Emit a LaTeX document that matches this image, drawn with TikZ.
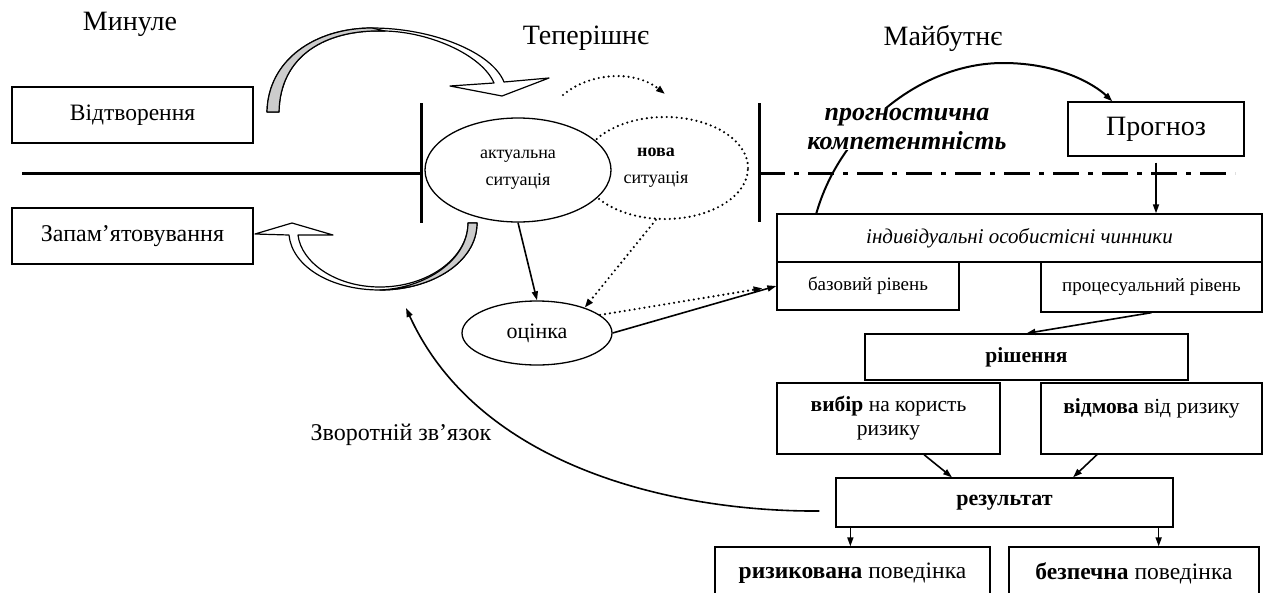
\documentclass[tikz,border=0pt]{standalone}
\usepackage{fontspec}
\setmainfont{Liberation Serif}
\usetikzlibrary{arrows.meta,shapes.geometric,calc}
\newcommand\fsz[2]{\fontsize{#1pt}{#2pt}\selectfont}
\begin{document}
\begin{tikzpicture}[x=1pt,y=-1pt,
  box/.style={draw,line width=1.3pt,inner sep=0pt,align=center},
  ell/.style={ellipse,draw,line width=1.3pt,inner sep=0pt,align=center},
  arr/.style={line width=1.6pt,-{Triangle[length=9pt,width=6pt]}},
  dotline/.style={line width=2.4pt,dash pattern=on 0pt off 5pt,line cap=round},
  dotarr/.style={dotline,-{Triangle[length=9pt,width=6pt]}},
  thick line/.style={line width=3pt},
  hollow/.style={draw,line width=1.2pt,fill=white,line join=round},
  shade/.style={draw,line width=1.2pt,fill=gray!40,line join=round}
]
\useasboundingbox (0,0) rectangle (1263,592);

% headings
\node[font=\fsz{28}{30}] (past) at (130,24) {Минуле};
\node[font=\fsz{28}{30}] (pres) at (586,38) {Теперішнє};
\node[font=\fsz{28}{30}] (fut) at (943,38) {Майбутнє};

% time line
\draw[thick line] (22,173) -- (421,173);
\draw[thick line] (421,103) -- (421,223);
\draw[thick line] (759,103) -- (759,222);
\draw[thick line,dash pattern=on 26pt off 9pt on 5pt off 9pt] (759,173) -- (1235,173);

% left boxes
\node[box,minimum width=241pt,minimum height=56pt,font=\fsz{23.5}{26}] (otv) at (132.5,115) {Відтворення};
\node[box,minimum width=241pt,minimum height=56pt,font=\fsz{24}{26}] (zap) at (132.5,236) {Запам’ятовування};

% top hollow curved arrow
\draw[hollow] (267,112) .. controls (268,60) and (315,28) .. (372,28)
  .. controls (432,28) and (492,52) .. (504,82)
  -- (549,78) -- (502,96) -- (450,86) -- (494,83)
  .. controls (482,55) and (430,32) .. (385,31)
  .. controls (325,29) and (280,56) .. (279,112) -- cycle;
\draw[shade] (267,112) .. controls (268,60) and (315,28) .. (372,28)
  -- (385,31) .. controls (325,29) and (280,56) .. (279,112) -- cycle;

% bottom hollow curved arrow
\draw[hollow] (477,223) .. controls (477,262) and (432,290) .. (380,290)
  .. controls (330,290) and (292,266) .. (289,235)
  -- (255,234) -- (292,223) -- (333,235) -- (298,235)
  .. controls (301,262) and (335,287) .. (380,287)
  .. controls (428,287) and (468,258) .. (468,223) -- cycle;
\draw[shade] (477,223) .. controls (477,262) and (432,290) .. (380,290)
  .. controls (426,288) and (468,260) .. (468,223) -- cycle;

% situations
\node[ell,minimum width=166pt,minimum height=102pt,dotline] (nova) at (665,168) {};
\node[ell,fill=white,minimum width=186pt,minimum height=104pt,font=\fsz{18}{27}] (akt) at (518,170) {актуальна\\ситуація};
\node[font=\fsz{18}{27},align=center] (novat) at (656,168) {\textbf{нова}\\ситуація};
\node[ell,minimum width=150pt,minimum height=64pt,font=\fsz{22}{24}] (ocin) at (537,333) {оцінка};

% dotted arc above
\coordinate (da1) at (563,95);
\coordinate (da2) at (665,94);
\draw[dotarr] (da1) .. controls (590,72) and (635,70) .. (da2);

% right side boxes
\node[box,minimum width=176pt,minimum height=54pt,font=\fsz{28}{30}] (progn) at (1156,129) {Прогноз};
\node[box,minimum width=485pt,minimum height=48pt,font=\fsz{21}{24}\itshape] (indiv) at (1019.5,238) {індивідуальні особистісні чинники};
\node[box,minimum width=182pt,minimum height=48pt,font=\fsz{19}{22}] (baz) at (868,286) {базовий рівень};
\node[box,minimum width=221pt,minimum height=50pt,font=\fsz{19}{22}] (proc) at (1151.5,287) {процесуальний рівень};
\node[box,minimum width=323pt,minimum height=46pt,font=\fsz{21.5}{24}] (rish) at (1026.5,357) {\textbf{рішення}};
\node[box,minimum width=223pt,minimum height=71pt,font=\fsz{21.5}{24}] (vybir) at (888.5,418.5) {\textbf{вибір} на користь\\ризику};
\node[box,minimum width=221pt,minimum height=71pt,font=\fsz{21.5}{24}] (vidm) at (1151.5,418.5) {\textbf{відмова} від ризику\\\mbox{}};
\node[box,minimum width=337pt,minimum height=49pt,font=\fsz{22}{24}] (rez) at (1004.5,502.5) {\textbf{результат}};
\node[box,minimum width=275pt,minimum height=53pt,font=\fsz{23.5}{24}] (ryz) at (852.5,573.5) {\textbf{ризикована} поведінка};
\node[box,minimum width=250pt,minimum height=53pt,font=\fsz{23.5}{24}] (bez) at (1134,573.5) {\textbf{безпечна} поведінка};

% connectors
\draw[arr] (akt.south) -- (ocin.north);
\draw[dotarr] (nova.-100) -- (ocin.28);
\draw[dotarr,shorten >=14pt] (ocin.16) -- (baz.west);
\draw[arr] (ocin.east) -- (baz.west);
\draw[arr,shorten <=6pt] (progn.south) -- (progn.south |- indiv.north);
\draw[line width=2pt,-{Triangle[length=9pt,width=6pt]}] ($(indiv.north west)+(40,0)$) .. controls (840,130) and (920,63) .. (1003,63) .. controls (1060,63) and (1095,85) .. ($(progn.north west)+(45,0)$);
\node[fill=white,inner sep=0pt,align=center,font=\fsz{26}{29}\bfseries\itshape] (komp) at (907,129) {прогностична\\компетентність};
\draw[arr] (proc.south) -- (rish.north);
\draw[arr] ($(vybir.south)+(35.5,0)$) -- ($(rez.north)+(-52.5,0)$);
\draw[arr] ($(vidm.south)+(-54.5,0)$) -- ($(rez.north)+(68.5,0)$);
\coordinate (r1) at ($(rez.south west)+(15,0)$);
\coordinate (r2) at ($(rez.south east)+(-15,0)$);
\draw[arr] (r1) -- (r1 |- ryz.north);
\draw[arr] (r2) -- (r2 |- bez.north);

% feedback
\coordinate (fbend) at (406,308);
\draw[arr] ($(rez.west)+(-16,8.5)$) .. controls (680,512) and (480,470) .. (fbend);
\node[font=\fsz{24}{26}] (fbt) at (401,435) {Зворотній зв’язок};
\end{tikzpicture}
\end{document}
